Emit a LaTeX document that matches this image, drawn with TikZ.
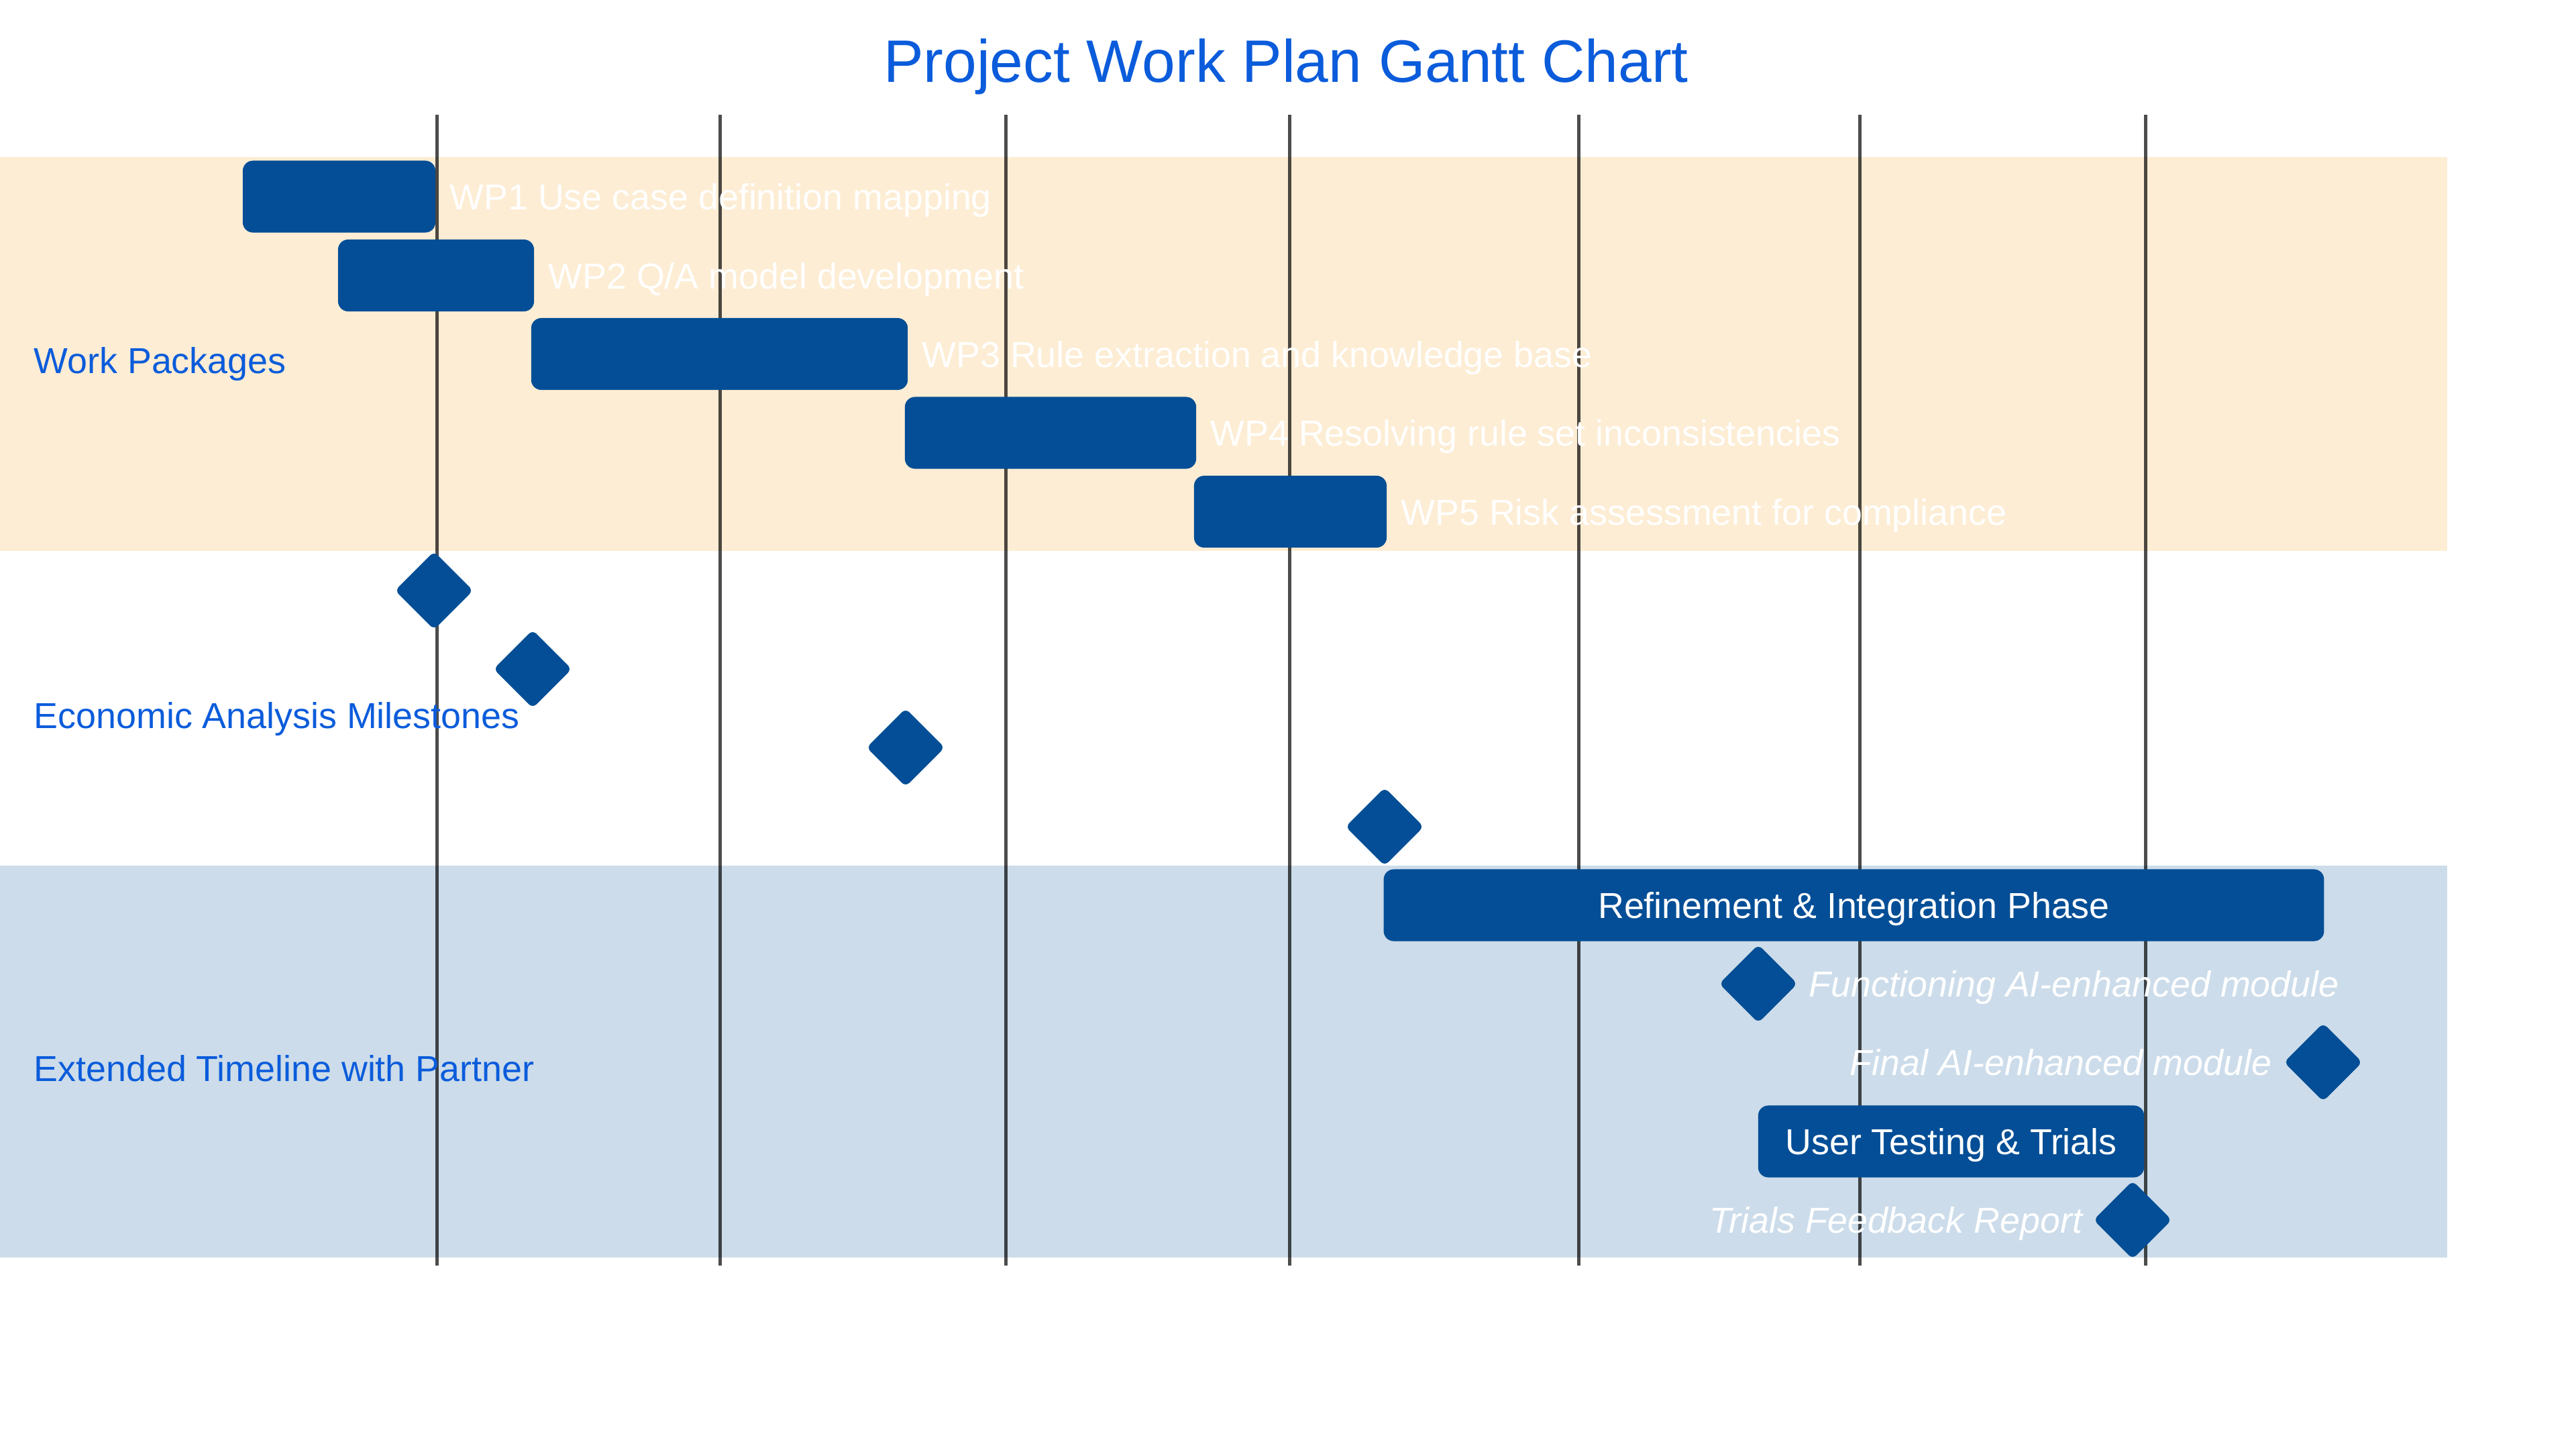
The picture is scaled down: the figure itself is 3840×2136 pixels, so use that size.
\documentclass[tikz,border=0pt]{standalone}
\usepackage{fontspec}
\setmainfont{Liberation Sans}
\usepackage{tikz}
\usetikzlibrary{shapes.geometric,positioning}
\usepackage{xcolor}
\definecolor{barblue}{RGB}{3,78,150}
\definecolor{wpcream}{RGB}{253,237,212}
\definecolor{extblue}{RGB}{204,220,234}
\definecolor{secblue}{RGB}{11,92,219}
\newcommand{\ganttfont}{\fontsize{15.3pt}{18pt}\selectfont}
\tikzset{
ganttbar/.style={rectangle,rounded corners=0.15cm,fill=barblue,minimum height=1.07cm,
  inner sep=0pt,text=white,font=\ganttfont,text height=0.39cm,text depth=0pt},
ganttms/.style={diamond,fill=barblue,minimum width=1.17cm,minimum height=1.17cm,
  inner sep=0pt,rounded corners=0.08cm},
tasklbl/.style={inner sep=0pt,text=white,font=\ganttfont,text height=0.39cm,text depth=0pt},
mslbl/.style={tasklbl,font=\ganttfont\itshape},
seclbl/.style={inner sep=0pt,anchor=west,text=secblue,font=\ganttfont,text height=0.39cm,text depth=0pt},
gridline/.style={draw=black,draw opacity=0.7,line width=0.05cm}
}

\begin{document}
\begin{tikzpicture}[x=0.01cm,y=-0.01cm]
\useasboundingbox (0,0) rectangle (3840,2136);
% section bands
\fill[wpcream] (0,234) rectangle (3648,821);
\fill[extblue] (0,1290) rectangle (3648,1874);
% month grid
\foreach \gx in {651,1073,1499,1922,2353,2772,3198}
  \draw[gridline] (\gx,171) -- (\gx,1886);
\node[inner sep=0pt,text=secblue,font=\fontsize{25.4pt}{30pt}\selectfont,text height=0.64cm,text depth=0pt] (title) at (1917,90) {Project Work Plan Gantt Chart};
% sections
\node[seclbl] (secwp) at (50,537) {Work Packages};
\node[seclbl] (sececon) at (50,1066) {Economic Analysis Milestones};
\node[seclbl] (secext) at (50,1592) {Extended Timeline with Partner};
% work packages
\node[ganttbar,minimum width=2.87cm] (wp1) at (505.5,293) {};
\node[ganttbar,minimum width=2.92cm] (wp2) at (650,410.5) {};
\node[ganttbar,minimum width=5.61cm] (wp3) at (1072.5,527.5) {};
\node[ganttbar,minimum width=4.34cm] (wp4) at (1566,645) {};
\node[ganttbar,minimum width=2.87cm] (wp5) at (1923.5,762.5) {};
\node[tasklbl,right=0.2cm of wp1] (wp1lbl) {WP1 Use case definition mapping};
\node[tasklbl,right=0.2cm of wp2] (wp2lbl) {WP2 Q/A model development};
\node[tasklbl,right=0.2cm of wp3] (wp3lbl) {WP3 Rule extraction and knowledge base};
\node[tasklbl,right=0.2cm of wp4] (wp4lbl) {WP4 Resolving rule set inconsistencies};
\node[tasklbl,right=0.2cm of wp5] (wp5lbl) {WP5 Risk assessment for compliance};
% economic milestones
\node[ganttms] (ms1) at (647,880) {};
\node[ganttms] (ms2) at (794,997) {};
\node[ganttms] (ms3) at (1350,1114) {};
\node[ganttms] (ms4) at (2064,1232) {};
% extended timeline
\node[ganttbar,minimum width=14.01cm] (refine) at (2763.5,1349) {Refinement \& Integration Phase};
\node[ganttms] (msfunc) at (2621,1466) {};
\node[mslbl,right=0.16cm of msfunc] (msfunclbl) {Functioning AI-enhanced module};
\node[ganttms] (msfinal) at (3463,1583) {};
\node[mslbl,left=0.17cm of msfinal] (msfinallbl) {Final AI-enhanced module};
\node[ganttbar,minimum width=5.75cm] (trials) at (2908.5,1701) {User Testing \& Trials};
\node[ganttms] (msfeed) at (3179,1818) {};
\node[mslbl,left=0.15cm of msfeed] (msfeedlbl) {Trials Feedback Report};
\end{tikzpicture}
\end{document}
